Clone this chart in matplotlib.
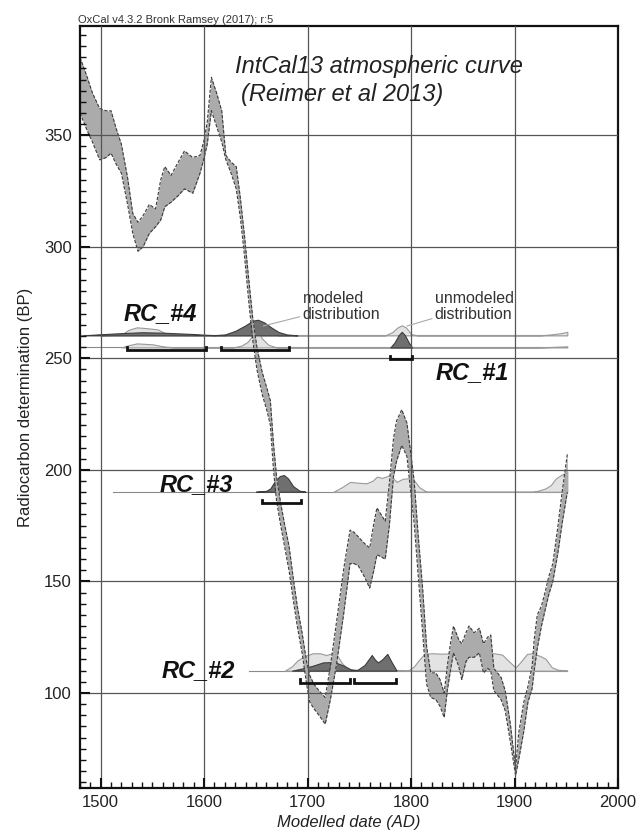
import matplotlib.pyplot as plt
from matplotlib.ticker import MultipleLocator

plt.rcParams['font.family'] = ['Liberation Sans', 'DejaVu Sans']

# IntCal13 band (year AD, upper / lower edge in BP)
curve_year = [1480, 1487, 1492, 1499, 1505, 1510, 1515, 1520, 1526, 1531, 1536, 1541, 1547,
              1553, 1558, 1562, 1568, 1575, 1581, 1589, 1596, 1600, 1603, 1607, 1612, 1617,
              1621, 1626, 1631, 1635, 1639, 1643, 1647, 1651, 1656, 1661, 1664, 1667, 1670,
              1674, 1678, 1682, 1686, 1690, 1695, 1699, 1702, 1706, 1711, 1717, 1722, 1728,
              1735, 1741, 1745, 1749, 1755, 1760, 1764, 1767, 1771, 1775, 1779, 1783, 1786,
              1791, 1796, 1799, 1803, 1807, 1811, 1815, 1819, 1824, 1828, 1832, 1835, 1838,
              1841, 1846, 1849, 1853, 1856, 1861, 1866, 1870, 1874, 1877, 1880, 1887, 1891,
              1896, 1901, 1904, 1909, 1913, 1917, 1919, 1922, 1926, 1930, 1933, 1937, 1942,
              1946, 1951]
curve_upper = [385, 376, 369, 362, 361, 361, 353, 346, 331, 315, 311, 314, 319,
               317, 330, 336, 332, 338, 343, 340, 341, 348, 356, 376, 369, 361,
               341, 338, 336, 322, 305, 286, 268, 255, 244, 236, 231, 212, 197,
               185, 175, 166, 152, 139, 126, 114, 108, 104, 101, 98, 112, 132,
               156, 173, 172, 170, 167, 165, 176, 183, 180, 177, 194, 214, 222,
               227, 221, 210, 195, 170, 148, 121, 109, 109, 106, 100, 112, 122,
               130, 124, 122, 127, 130, 127, 129, 122, 125, 126, 111, 107, 101,
               86, 66, 82, 96, 103, 112, 124, 135, 139, 146, 152, 158, 175,
               190, 207]
curve_lower = [360, 352, 347, 339, 340, 342, 337, 333, 319, 306, 298, 300, 306,
               309, 312, 318, 320, 323, 326, 324, 333, 340, 346, 361, 354, 347,
               339, 333, 326, 313, 296, 276, 258, 245, 234, 226, 220, 200, 186,
               175, 165, 155, 142, 130, 117, 104, 96, 93, 90, 86, 97, 113,
               136, 158, 158, 157, 152, 147, 155, 162, 161, 160, 175, 197, 204,
               211, 206, 193, 176, 152, 128, 104, 98, 97, 94, 89, 101, 110,
               118, 112, 106, 114, 116, 116, 118, 109, 111, 110, 101, 97, 92,
               78, 63, 70, 83, 96, 102, 110, 120, 130, 138, 144, 150, 163,
               176, 190]

# samples: baseline (BP), extent of the baseline, 95% ranges
rc_names = ['RC_#4', 'RC_#1', 'RC_#3', 'RC_#2']
rc_base = [260.3, 254.9, 190.2, 110.0]
rc_line_start = [1480, 1480, 1512, 1643]
rc_line_end = [1951, 1951, 1951, 1951]
rc4_ranges = [(1525, 1602), (1616, 1682)]
rc1_ranges = [(1780, 1801)]
rc3_ranges = [(1656, 1694)]
rc2_ranges = [(1693, 1741), (1745, 1785)]
range_level = [253.8, 249.6, 185.0, 104.6]

# unmodeled (light) and modeled (dark) distributions, height above baseline in BP
rc4_prior_year = [1500, 1520, 1527, 1535, 1545, 1555, 1562, 1570, 1620, 1640, 1650, 1660, 1672,
                  1775, 1782, 1787, 1791, 1795, 1800, 1806, 1925, 1935, 1945, 1951]
rc4_prior_h = [0, 0.3, 2.5, 3.6, 3.2, 2.7, 1.0, 0.2, 0, 2, 4, 2, 0,
               0, 1.5, 3.6, 4.5, 3.6, 0.6, 0, 0, 0.4, 1.0, 1.6]
rc4_post_year = [1483, 1500, 1520, 1530, 1540, 1550, 1560, 1570, 1580, 1590, 1600, 1610, 1620,
                 1630, 1640, 1647, 1652, 1658, 1665, 1672, 1680, 1690]
rc4_post_h = [0, 0.5, 1.0, 1.2, 1.4, 1.3, 1.2, 1.0, 0.8, 0.6, 0.3, 0.1, 0.4,
              2.0, 4.5, 6.6, 7.0, 5.8, 3.5, 1.5, 0.4, 0]
rc1_prior_year = [1520, 1527, 1535, 1550, 1560, 1570, 1628, 1636, 1642, 1647, 1651, 1656, 1662,
                  1670, 1925, 1940, 1951]
rc1_prior_h = [0, 1.0, 1.8, 1.4, 0.5, 0, 0, 0.8, 2.5, 5.5, 7.7, 4.0, 1.2,
               0, 0, 0.3, 0.5]
rc1_post_year = [1780, 1784, 1788, 1791, 1794, 1798, 1801]
rc1_post_h = [0, 2.2, 5.5, 7.0, 5.5, 2.0, 0]
rc3_prior_year = [1725, 1733, 1741, 1750, 1757, 1763, 1767, 1772, 1780, 1786, 1792, 1799, 1803,
                  1808, 1815, 1918, 1923, 1930, 1935, 1940, 1945, 1951]
rc3_prior_h = [0, 2.0, 4.4, 4.0, 3.8, 5.0, 6.8, 6.2, 7.5, 4.4, 5.8, 6.1, 5.0,
               2.0, 0, 0, 0.5, 1.5, 3.0, 6.0, 7.5, 9.0]
rc3_post_year = [1650, 1660, 1664, 1668, 1673, 1677, 1681, 1686, 1692, 1698]
rc3_post_h = [0, 0.4, 1.5, 4.5, 7.0, 7.5, 6.0, 2.5, 0.5, 0]
rc2_prior_year = [1678, 1685, 1690, 1697, 1705, 1712, 1718, 1724, 1729, 1733, 1738, 1745, 1790,
                  1797, 1803, 1808, 1813, 1820, 1830, 1840, 1850, 1860, 1870, 1880, 1888, 1895,
                  1901, 1906, 1912, 1918, 1925, 1930, 1936, 1942, 1951]
rc2_prior_h = [0, 2.0, 4.5, 6.5, 7.8, 7.8, 7.0, 7.8, 6.5, 3.5, 1.0, 0.3, 0.3,
               0, 2.0, 5.0, 7.5, 7.8, 7.6, 7.8, 7.6, 7.8, 7.8, 7.8, 7.2, 4.0,
               1.4, 4.0, 7.5, 7.8, 6.5, 5.3, 1.5, 0.4, 0]
rc2_post_year = [1685, 1695, 1705, 1715, 1722, 1728, 1735, 1742, 1748, 1755, 1762, 1765, 1768,
                 1772, 1777, 1781, 1786]
rc2_post_h = [0, 1.0, 2.2, 3.7, 3.8, 3.5, 2.2, 0.5, 0.3, 2.5, 7.0, 5.0, 3.7,
              5.0, 7.5, 4.0, 0]

LIGHT = '#e3e3e3'
LIGHT_EDGE = '#9a9a9a'
DARK = '#6f6f6f'
DARK_EDGE = '#3c3c3c'

fig = plt.figure(figsize=(6.42, 8.38), dpi=100)
ax = fig.add_axes([0.1246, 0.0597, 0.838, 0.9093])

# calibration curve, drawn over the distributions
ax.fill_between(curve_year, curve_lower, curve_upper, color='#ababab', lw=0, zorder=2.2)
ax.plot(curve_year, curve_upper, color='#3a3a3a', lw=0.8, ls=(0, (3, 1.5)), zorder=2.3)
ax.plot(curve_year, curve_lower, color='#3a3a3a', lw=0.8, ls=(0, (3, 1.5)), zorder=2.3)


def dist(years, heights, base, light):
    top = [base + h for h in heights]
    if light:
        ax.fill_between(years, base, top, facecolor=LIGHT, edgecolor=LIGHT_EDGE, lw=0.8, zorder=1.5)
    else:
        ax.fill_between(years, base, top, facecolor=DARK, edgecolor=DARK_EDGE, lw=0.8, zorder=1.6)


def brackets(ranges, level):
    for x0, x1 in ranges:
        ax.plot([x0, x0, x1, x1], [level + 1.5, level, level, level + 1.5],
                color='#111111', lw=2, solid_joinstyle='miter', zorder=3)


for b, x0, x1 in zip(rc_base, rc_line_start, rc_line_end):
    ax.plot([x0, x1], [b, b], color='#8a8a8a', lw=0.8, zorder=1.4)

dist(rc4_prior_year, rc4_prior_h, rc_base[0], True)
dist(rc4_post_year, rc4_post_h, rc_base[0], False)
dist(rc1_prior_year, rc1_prior_h, rc_base[1], True)
dist(rc1_post_year, rc1_post_h, rc_base[1], False)
dist(rc3_prior_year, rc3_prior_h, rc_base[2], True)
dist(rc3_post_year, rc3_post_h, rc_base[2], False)
dist(rc2_prior_year, rc2_prior_h, rc_base[3], True)
dist(rc2_post_year, rc2_post_h, rc_base[3], False)

brackets(rc4_ranges, range_level[0])
brackets(rc1_ranges, range_level[1])
brackets(rc3_ranges, range_level[2])
brackets(rc2_ranges, range_level[3])

# sample labels
lab_font = dict(fontsize=17, fontweight='bold', fontstyle='italic', color='#111111', zorder=4)
ax.text(1522, 267.0, rc_names[0], ha='left', va='baseline', **lab_font)
ax.text(1824, 240.5, rc_names[1], ha='left', va='baseline', **lab_font)
ax.text(1557, 190.5, rc_names[2], ha='left', va='baseline', **lab_font)
ax.text(1559, 107.0, rc_names[3], ha='left', va='baseline', **lab_font)

# annotations
ax.annotate('modeled\ndistribution', xy=(1657, 264.5), xytext=(1695, 266.5),
            fontsize=11.5, color='#333333', ha='left', va='bottom', linespacing=1.05,
            arrowprops=dict(arrowstyle='-', color='#aaaaaa', lw=0.8, shrinkA=0, shrinkB=0))
ax.annotate('unmodeled\ndistribution', xy=(1796, 264.5), xytext=(1823, 266.5),
            fontsize=11.5, color='#333333', ha='left', va='bottom', linespacing=1.05,
            arrowprops=dict(arrowstyle='-', color='#aaaaaa', lw=0.8, shrinkA=0, shrinkB=0))

ax.text(1630, 378, 'IntCal13 atmospheric curve', fontsize=17, fontstyle='italic',
        color='#222222', ha='left', va='baseline')
ax.text(1636, 365.5, '(Reimer et al 2013)', fontsize=17, fontstyle='italic',
        color='#222222', ha='left', va='baseline')

fig.text(78 / 642, 1 - 23 / 838, 'OxCal v4.3.2 Bronk Ramsey (2017); r:5', fontsize=8,
         color='#333333', ha='left', va='baseline')

ax.set_xlim(1480, 2000)
ax.set_ylim(57.4, 399)
ax.xaxis.set_major_locator(MultipleLocator(100))
ax.xaxis.set_minor_locator(MultipleLocator(10))
ax.yaxis.set_major_locator(MultipleLocator(50))
ax.yaxis.set_minor_locator(MultipleLocator(5))
ax.tick_params(which='both', direction='in', top=False, right=False, colors='#111111',
               labelcolor='#222222', labelsize=12)
ax.tick_params(which='major', length=7, width=1.5)
ax.tick_params(which='minor', length=4, width=1)
ax.tick_params(axis='x', pad=5)
ax.tick_params(axis='y', pad=6)

ax.grid(True, which='major', color='#555555', lw=0.9)
ax.set_axisbelow(False)
for s in ax.spines.values():
    s.set_linewidth(1.6)
    s.set_color('#111111')

ax.set_xlabel('Modelled date (AD)', fontsize=12, fontstyle='italic', color='#222222', labelpad=4)
ax.set_ylabel('Radiocarbon determination (BP)', fontsize=12, color='#222222', labelpad=8)

fig.savefig('out.png', dpi=100)
